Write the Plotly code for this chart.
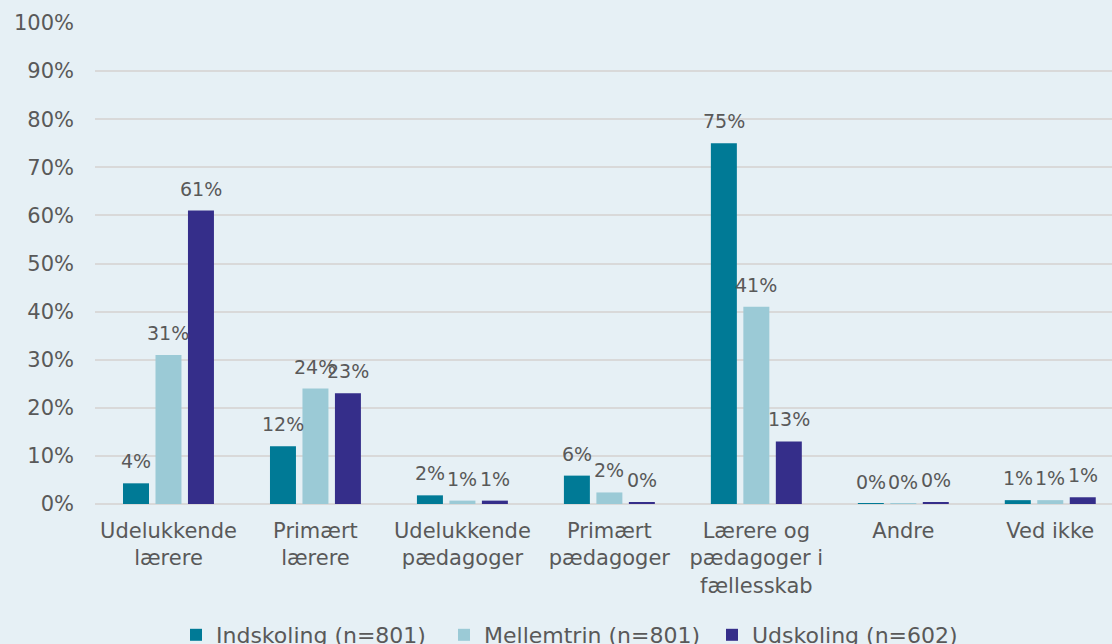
import plotly.graph_objects as go

# Survey shares (%) per answer category and school stage
categories = [
    "Udelukkende<br>lærere",
    "Primært<br>lærere",
    "Udelukkende<br>pædagoger",
    "Primært<br>pædagoger",
    "Lærere og<br>pædagoger i<br>fællesskab",
    "Andre",
    "Ved ikke",
]
series_names = ["Indskoling (n=801)", "Mellemtrin (n=801)", "Udskoling (n=602)"]
indskoling = [4.3, 12.0, 1.8, 5.9, 75.0, 0.05, 0.8]
mellemtrin = [31.0, 24.0, 0.7, 2.4, 41.0, 0.05, 0.8]
udskoling = [61.0, 23.0, 0.7, 0.4, 13.0, 0.4, 1.4]
y_ticks = list(range(0, 101, 10))

colors = ["#007a96", "#9bcad6", "#352e8a"]
text_color = "#595959"
font_family = "DejaVu Sans, Verdana, sans-serif"

W, H = 1112, 644
m_l, m_r, m_t, m_b = 95, 0, 23, 140
x_range = [-0.5, 6.42]
cat_px = (W - m_l - m_r) / (x_range[1] - x_range[0])
bargap, bargroupgap = 0.337, 0.2
slot_px = cat_px * (1 - bargap) / 3

fig = go.Figure()
all_series = [indskoling, mellemtrin, udskoling]
for name, vals, col in zip(series_names, all_series, colors):
    fig.add_trace(go.Bar(
        x=list(range(len(categories))), y=vals, name=name,
        marker=dict(color=col, line=dict(width=0)),
        hoverinfo="skip",
    ))

# value labels above each bar
annotations = []
for si, vals in enumerate(all_series):
    for ci, v in enumerate(vals):
        annotations.append(dict(
            x=ci, y=v, xref="x", yref="y",
            text=f"{round(v):.0f}%", showarrow=False,
            xshift=(si - 1) * slot_px, yshift=22,
            xanchor="center", yanchor="middle",
            font=dict(family=font_family, size=19, color=text_color),
        ))

fig.update_layout(
    width=W, height=H,
    margin=dict(l=m_l, r=m_r, t=m_t, b=m_b, autoexpand=False),
    paper_bgcolor="#e6f0f5", plot_bgcolor="#e6f0f5",
    barmode="group", bargap=bargap, bargroupgap=bargroupgap,
    font=dict(family=font_family, color=text_color, size=21),
    annotations=annotations,
    showlegend=True,
    legend=dict(
        orientation="h", x=(176 - m_l) / (W - m_l - m_r), xanchor="left",
        y=-(614 - (H - m_b)) / (H - m_t - m_b), yanchor="top",
        font=dict(size=22, color=text_color),
        entrywidth=223, entrywidthmode="pixels",
        bgcolor="rgba(0,0,0,0)", traceorder="normal",
        itemclick=False,
    ),
    xaxis=dict(
        tickmode="array", tickvals=list(range(len(categories))), ticktext=categories,
        range=x_range, showgrid=False, zeroline=False, showline=False,
        ticks="", ticklabelstandoff=12,
        tickfont=dict(size=21, color=text_color),
    ),
    yaxis=dict(
        range=[0, 100], tickvals=y_ticks, ticktext=[f"{t}%" for t in y_ticks],
        showgrid=True, gridcolor="#d9d9d9", gridwidth=1.5,
        zeroline=True, zerolinecolor="#d9d9d9", zerolinewidth=1.5,
        showline=False, ticks="", ticklabelstandoff=20,
        tickfont=dict(size=21, color=text_color),
    ),
)

fig.write_html("out.html")
